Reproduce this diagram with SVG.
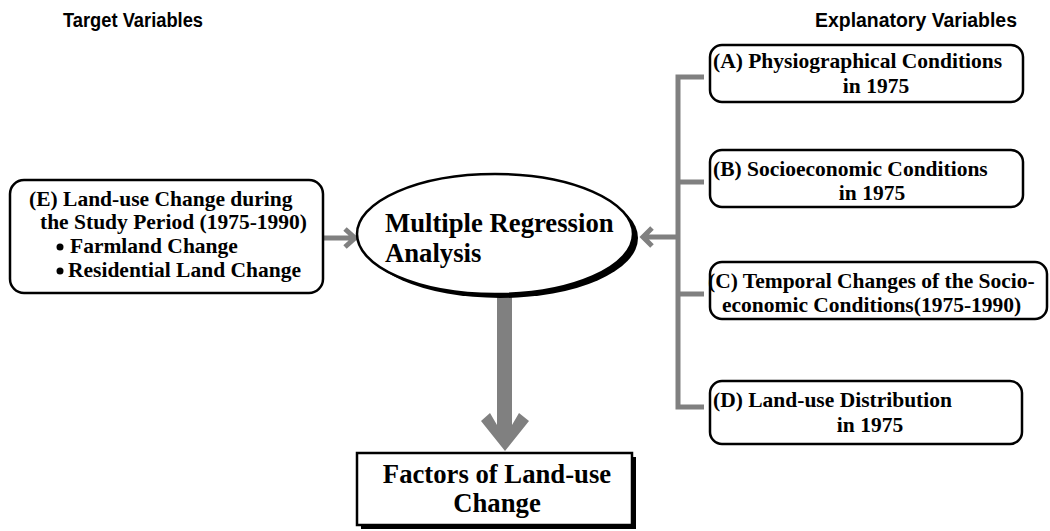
<svg xmlns="http://www.w3.org/2000/svg" width="1050" height="531" viewBox="0 0 1050 531">
<style>
.box{fill:#fff;stroke:#000;stroke-width:2.5}
.t{font-family:"Liberation Serif","Times New Roman",serif;font-weight:bold;fill:#000}
.s{font-size:21.5px}
.b{font-size:26.7px}
.h{font-family:"Liberation Sans",Arial,sans-serif;font-weight:bold;font-size:20px;fill:#000}
.con{fill:none;stroke:#808080;stroke-width:5}
</style>
<rect width="1050" height="531" fill="#fff"/>
<g id="headings">
<text class="h" x="63" y="27" textLength="140" lengthAdjust="spacingAndGlyphs">Target Variables</text>
<text class="h" x="815" y="27" textLength="202" lengthAdjust="spacingAndGlyphs">Explanatory Variables</text>
</g>
<g id="connectors">
<path class="con" d="M323,238 H354 M345,229 L355,238 L345,247"/>
<path class="con" d="M678,237 H644 M652,228 L643,237 L652,246"/>
<path class="con" d="M704,77 H678 V407 H704 M678,182 H704 M678,294 H704"/>
<polygon fill="#808080" points="497,296 512,296 512,425 519,413 529,421 505,451 481,421 490,413 497,425"/>
</g>
<g id="nodeE">
<rect class="box" x="10" y="180" width="313" height="113" rx="14"/>
<text class="t s" x="29" y="206">(E) Land-use Change during</text>
<text class="t s" x="40" y="229">the Study Period (1975-1990)</text>
<circle cx="60" cy="247" r="3.5"/>
<text class="t s" x="70" y="253">Farmland Change</text>
<circle cx="60" cy="271" r="3.5"/>
<text class="t s" x="68" y="277">Residential Land Change</text>
</g>
<g id="nodeMRA">
<ellipse cx="500" cy="238" rx="138" ry="60" fill="#000"/>
<ellipse cx="495" cy="234" rx="138" ry="60" fill="#fff" stroke="#000" stroke-width="2.5"/>
<text class="t b" x="385" y="232">Multiple Regression</text>
<text class="t b" x="385" y="262">Analysis</text>
</g>
<g id="nodeFactors">
<rect x="361" y="457" width="275" height="72" fill="#000"/>
<rect x="357" y="453" width="275" height="72" fill="#fff" stroke="#000" stroke-width="2.5"/>
<text class="t b" x="497" y="483" text-anchor="middle">Factors of Land-use</text>
<text class="t b" x="497" y="512" text-anchor="middle">Change</text>
</g>
<g id="nodeA">
<rect class="box" x="710" y="45" width="313" height="57" rx="12"/>
<text class="t s" x="713" y="68">(A) Physiographical Conditions</text>
<text class="t s" x="876" y="93" text-anchor="middle">in 1975</text>
</g>
<g id="nodeB">
<rect class="box" x="710" y="150" width="313" height="57" rx="12"/>
<text class="t s" x="713" y="176">(B) Socioeconomic Conditions</text>
<text class="t s" x="872" y="200" text-anchor="middle">in 1975</text>
</g>
<g id="nodeC">
<rect class="box" x="710" y="262" width="337" height="57" rx="12"/>
<text class="t s" x="708" y="288">(C) Temporal Changes of the Socio-</text>
<text class="t s" x="722" y="312">economic Conditions(1975-1990)</text>
</g>
<g id="nodeD">
<rect class="box" x="710" y="381" width="312" height="63" rx="12"/>
<text class="t s" x="713" y="407">(D) Land-use Distribution</text>
<text class="t s" x="870" y="432" text-anchor="middle">in 1975</text>
</g>
</svg>
